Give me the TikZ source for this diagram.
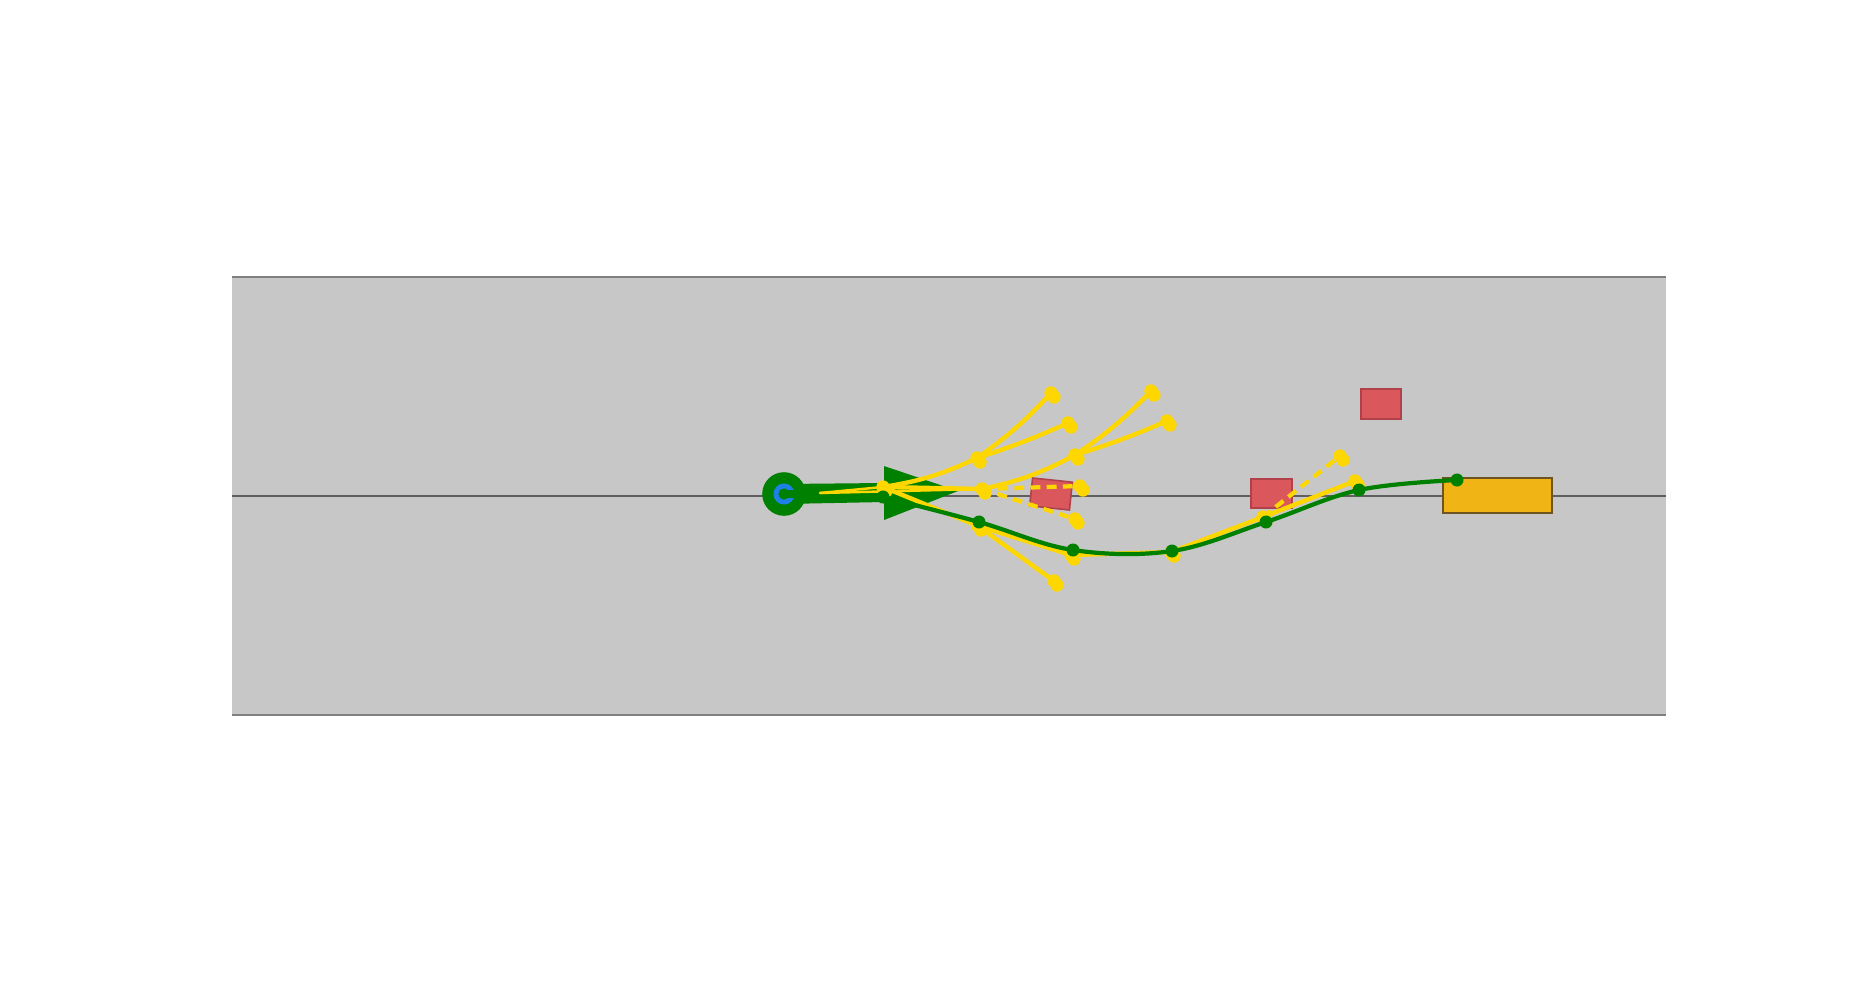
\documentclass[tikz,border=0pt]{standalone}
\usepackage{tikz}

\definecolor{roadgray}{HTML}{C7C7C7}
\definecolor{edgegray}{HTML}{7F7F7F}
\definecolor{lanegray}{HTML}{5F5F5F}
\definecolor{egogreen}{HTML}{008000}
\definecolor{egoblue}{HTML}{1E80E6}
\definecolor{gold}{HTML}{FFD700}
\definecolor{obsred}{HTML}{DA585B}
\definecolor{obsedge}{HTML}{B0404A}
\definecolor{goalfill}{HTML}{F0B514}
\definecolor{goaledge}{HTML}{6E5420}

\begin{document}
\begin{tikzpicture}[x=0.01cm, y=-0.01cm,
    obstacle/.style={fill=obsred, draw=obsedge, line width=0.45pt},
    branch/.style={draw=gold, line width=1.25pt, line cap=round},
    pruned/.style={draw=gold, line width=1.2pt, dash pattern=on 2.8pt off 1.8pt},
    traj/.style={draw=egogreen, line width=1.2pt}]
    \useasboundingbox (0,0) rectangle (1852,982);

    % road with lane marking
    \fill[roadgray] (232,277) rectangle (1666,715);
    \draw[edgegray, line width=0.35pt] (232,277) -- (1666,277);
    \draw[edgegray, line width=0.35pt] (232,715) -- (1666,715);
    \draw[lanegray, line width=0.3pt] (232,496) -- (1666,496);

    % obstacles and goal
    \draw[obstacle] (1361,389) rectangle (1401,419);
    \draw[obstacle] (1251,479) rectangle (1292,508);
    \draw[obstacle, rotate around={-6:(1051,494)}] (1031,480) rectangle (1071,508);
    \draw[goalfill, draw=goaledge, line width=0.45pt, fill=goalfill] (1443,478) rectangle (1552,513);

    % ego heading arrow
    \coordinate (ego) at (784,494);
    \fill[egogreen] (784,484) -- (884,483) -- (884,466) -- (958,491)
        -- (884,520) -- (884,502) -- (784,504) -- cycle;

    % search tree
    \coordinate (tail) at (820,493);
    \coordinate (root) at (883,487);
    \coordinate (a) at (977,458);
    \coordinate (b) at (982,489);
    \coordinate (c) at (978,526);
    \coordinate (aa) at (1051,393);
    \coordinate (ab) at (1068,423);
    \coordinate (ba) at (1075,455);
    \coordinate (bb) at (1080,486);
    \coordinate (bc) at (1075,519);
    \coordinate (ca) at (1071,555);
    \coordinate (cb) at (1054,581);
    \coordinate (baa) at (1151,391);
    \coordinate (bab) at (1167,421);
    \coordinate (caa) at (1171,552);
    \coordinate (d) at (1263,517);
    \coordinate (da) at (1340,456);
    \coordinate (db) at (1355,481);

    \draw[branch, line width=0.7pt] (tail) -- (root);
    \draw[branch, line width=0.7pt] (tail) -- (b);
    \draw[branch] (root) to[bend right=8] (a);
    \draw[branch] (root) -- (b);
    \draw[branch] (root) -- (c);
    \draw[branch] (a) to[bend right=6] (aa);
    \draw[branch] (a) to[bend right=3] (ab);
    \draw[branch] (b) to[bend right=8] (ba);
    \draw[pruned] (b) -- (bb);
    \draw[pruned] (b) -- (bc);
    \draw[branch] (c) -- (ca);
    \draw[branch] (c) -- (cb);
    \draw[branch] (ba) to[bend right=6] (baa);
    \draw[branch] (ba) to[bend right=3] (bab);
    \draw[branch] (ca) -- (caa);
    \draw[branch] (caa) -- (d);
    \draw[pruned] (d) -- (da);
    \draw[branch] (d) -- (db);
    \foreach \n in {root,a,b,c,aa,ab,ba,bb,bc,ca,cb,baa,bab,caa,d,da,db}
        \fill[gold] (\n) circle (1.9pt) ([shift={(3,4)}]\n) circle (1.9pt);

    % ego vehicle
    \fill[egogreen] (ego) circle (6.2pt);
    \fill[egoblue] (ego) circle (3pt);
    \fill[egogreen] (ego) circle (1.6pt);
    \fill[egogreen] (784,490) rectangle (797,498);

    % chosen trajectory
    \coordinate (g0) at (883,497);
    \coordinate (g1) at (979,522);
    \coordinate (g2) at (1073,550);
    \coordinate (g3) at (1172,551);
    \coordinate (g4) at (1266,522);
    \coordinate (g5) at (1359,490);
    \coordinate (g6) at (1457,480);
    \draw[traj] plot[smooth, tension=0.6] coordinates {(g0) (g1) (g2) (g3) (g4) (g5) (g6)};
    \foreach \n in {g0,g1,g2,g3,g4,g5,g6}
        \fill[egogreen] (\n) circle (1.85pt);
\end{tikzpicture}
\end{document}
